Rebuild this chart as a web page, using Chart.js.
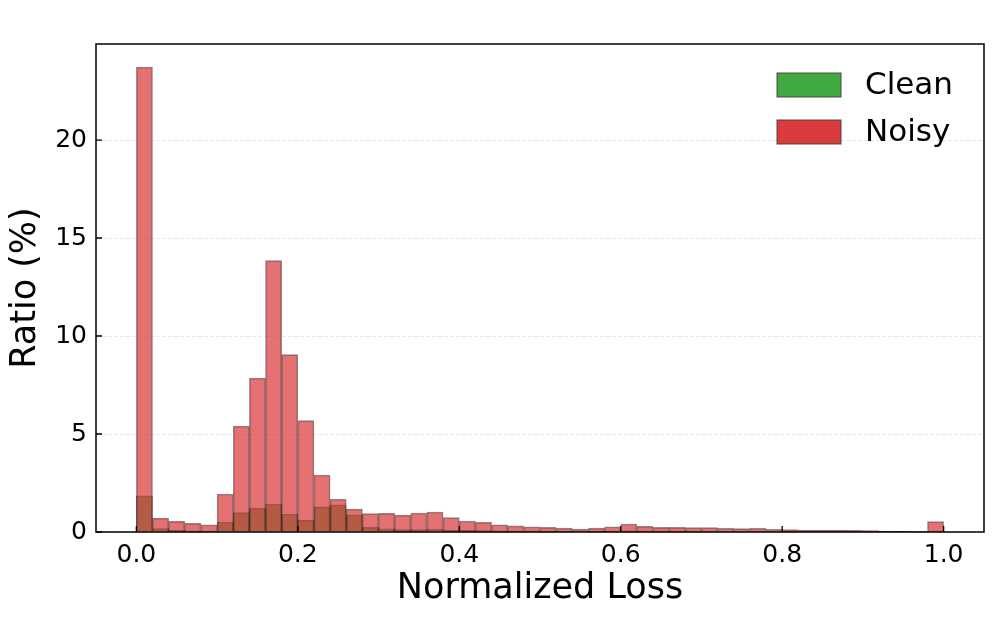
<!DOCTYPE html>
<html>
<head>
<meta charset="utf-8">
<script src="https://cdn.jsdelivr.net/npm/chart.js@4/dist/chart.umd.min.js"></script>
<style>
  html, body { margin: 0; padding: 0; background: #fff; }
  #wrap { width: 996px; height: 619px; }
</style>
</head>
<body>
<div id="wrap"><canvas id="lossHist"></canvas></div>
<script>
// histogram: 50 bins of width 0.02 over [0, 1]
const binWidth = 0.02;
const binCenters = Array.from({ length: 50 }, (_, i) => +(i * binWidth + binWidth / 2).toFixed(2));

const cleanRatio = [
  1.84, 0.17, 0.10, 0.06, 0.05, 0.51, 0.99, 1.22, 1.43, 0.92,
  0.61, 1.28, 1.39, 0.88, 0.24, 0.16, 0.12, 0.12, 0.14, 0.10,
  0.08, 0.07, 0.06, 0.05, 0.05, 0.04, 0.04, 0.03, 0.04, 0.05,
  0.06, 0.05, 0.04, 0.04, 0.04, 0.03, 0.03, 0.03, 0.03, 0.02,
  0.02, 0.02, 0.02, 0.02, 0.01, 0.01, 0.01, 0.01, 0.01, 0.05
];
const noisyRatio = [
  23.72, 0.71, 0.54, 0.44, 0.37, 1.94, 5.40, 7.85, 13.85, 9.05,
  5.68, 2.91, 1.67, 1.17, 0.94, 0.95, 0.86, 0.97, 1.02, 0.73,
  0.56, 0.49, 0.37, 0.31, 0.27, 0.24, 0.20, 0.15, 0.20, 0.27,
  0.41, 0.29, 0.24, 0.24, 0.22, 0.22, 0.19, 0.17, 0.19, 0.14,
  0.12, 0.10, 0.10, 0.10, 0.08, 0.07, 0.05, 0.04, 0.03, 0.53
];
const xTickValues = [0, 0.2, 0.4, 0.6, 0.8, 1.0];
const yTickValues = [0, 5, 10, 15, 20];
const seriesNames = ['Clean', 'Noisy'];

const FONT = "'DejaVu Sans', sans-serif";
const colors = {
  clean: 'rgba(44,160,44,0.65)',
  noisy: 'rgba(214,39,40,0.65)',
  cleanLegend: 'rgba(44,160,44,0.9)',
  noisyLegend: 'rgba(214,39,40,0.9)',
  edge: 'rgba(0,0,0,0.45)'
};

const toPoints = vals => vals.map((v, i) => ({ x: binCenters[i], y: v }));

// frame, inward ticks and the legend, drawn over the bars
const framePlugin = {
  id: 'framePlugin',
  afterDraw(chart) {
    const { ctx, chartArea: a, scales: { x, y } } = chart;
    ctx.save();
    ctx.strokeStyle = '#000';
    ctx.lineWidth = 1.5;
    ctx.strokeRect(a.left, a.top, a.right - a.left, a.bottom - a.top);

    ctx.lineWidth = 1.3;
    ctx.beginPath();
    xTickValues.forEach(v => {
      const px = x.getPixelForValue(v);
      ctx.moveTo(px, a.bottom);
      ctx.lineTo(px, a.bottom - 6);
    });
    yTickValues.forEach(v => {
      const py = y.getPixelForValue(v);
      ctx.moveTo(a.left, py);
      ctx.lineTo(a.left + 6, py);
    });
    ctx.stroke();

    // legend box (upper right)
    const items = [
      { label: seriesNames[0], fill: colors.cleanLegend },
      { label: seriesNames[1], fill: colors.noisyLegend }
    ];
    ctx.font = `31px ${FONT}`;
    ctx.textBaseline = 'middle';
    items.forEach((it, i) => {
      const cy = 85 + i * 47;
      ctx.fillStyle = it.fill;
      ctx.fillRect(777, cy - 12, 64, 24);
      ctx.strokeStyle = 'rgba(60,60,60,0.9)';
      ctx.lineWidth = 1;
      ctx.strokeRect(777, cy - 12, 64, 24);
      ctx.fillStyle = '#000';
      ctx.fillText(it.label, 865, cy + 1);
    });
    ctx.restore();
  }
};

new Chart(document.getElementById('lossHist'), {
  type: 'bar',
  data: {
    datasets: [
      {
        label: seriesNames[0],
        data: toPoints(cleanRatio),
        backgroundColor: colors.clean,
        borderColor: colors.edge,
        borderWidth: 1,
        order: 1
      },
      {
        label: seriesNames[1],
        data: toPoints(noisyRatio),
        backgroundColor: colors.noisy,
        borderColor: colors.edge,
        borderWidth: 1,
        order: 0
      }
    ]
  },
  options: {
    responsive: true,
    maintainAspectRatio: false,
    animation: false,
    devicePixelRatio: 1,
    layout: { padding: { top: 44, right: 12, left: 0, bottom: 0 } },
    datasets: { bar: { grouped: false, barPercentage: 1, categoryPercentage: 1 } },
    plugins: { legend: { display: false }, tooltip: { enabled: false } },
    scales: {
      x: {
        type: 'linear',
        offset: false,
        min: -0.05, max: 1.05,
        afterBuildTicks: s => { s.ticks = xTickValues.map(v => ({ value: v })); },
        afterFit: s => { s.height = 87; },
        grid: { display: false, drawTicks: false },
        border: { display: false },
        ticks: {
          color: '#000', padding: 8,
          font: { family: FONT, size: 25 },
          callback: v => v.toFixed(1)
        },
        title: {
          display: true, text: 'Normalized Loss', color: '#000',
          font: { family: FONT, size: 35 },
          padding: { top: 0, bottom: 9 }
        }
      },
      y: {
        min: 0, max: 24.9,
        afterBuildTicks: s => { s.ticks = yTickValues.map(v => ({ value: v })); },
        afterFit: s => { s.width = 96; },
        grid: { color: 'rgba(200,200,200,0.5)', lineWidth: 0.8, drawTicks: false },
        border: { display: false, dash: [4, 2] },
        ticks: {
          color: '#000', padding: 9,
          font: { family: FONT, size: 25 }
        },
        title: {
          display: true, text: 'Ratio (%)', color: '#000',
          font: { family: FONT, size: 35 },
          padding: { top: 5, bottom: 0 }
        }
      }
    }
  },
  plugins: [framePlugin]
});
</script>
</body>
</html>
